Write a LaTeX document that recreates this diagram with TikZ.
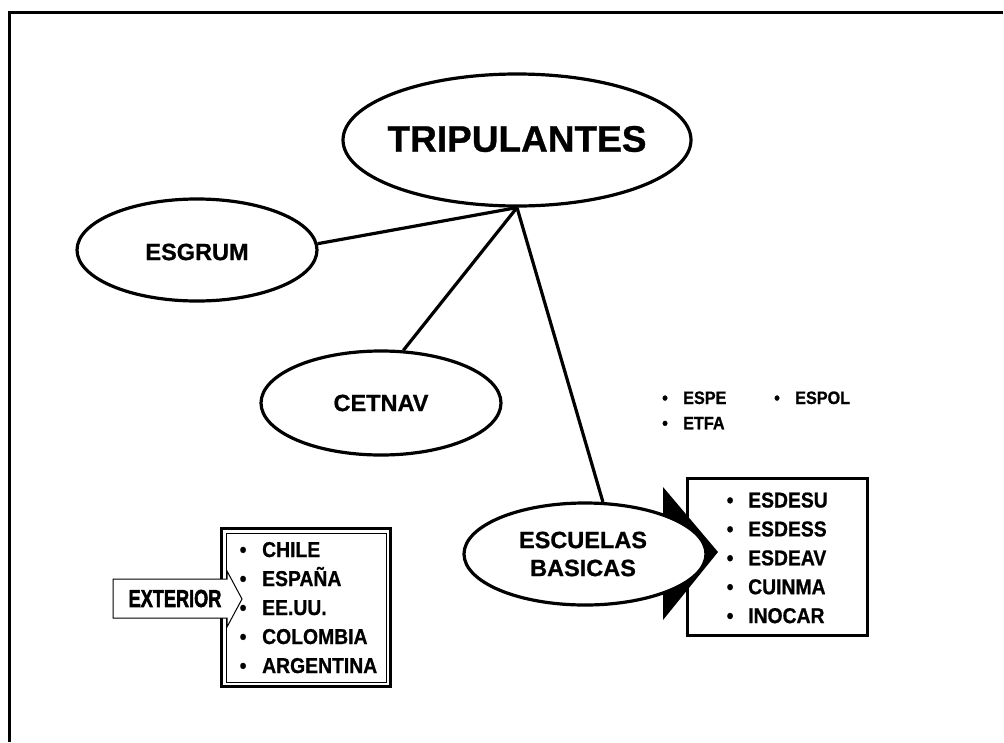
\documentclass[tikz,border=0pt]{standalone}
\usepackage{graphicx}
\usepackage{fontspec}
\setmainfont{Liberation Sans}[BoldFeatures={FakeBold=0.8}]
\newfontfamily\listfont{Liberation Sans Bold}[FakeStretch=0.9, FakeBold=0.8]
\newfontfamily\heavyfont{Liberation Sans Bold}[FakeBold=2.5]
\usetikzlibrary{shapes.geometric}
\begin{document}
\begin{tikzpicture}[x=1pt,y=-1pt,
  ell/.style={ellipse, draw, line width=3.2pt, fill=white, inner sep=0pt},
  conn/.style={line width=3.2pt},
  lbl/.style={font=\bfseries\fontsize{23.5}{28}\selectfont, align=center, inner sep=0pt},
  listitem/.style={font=\listfont\fontsize{21.5}{24}\selectfont, anchor=base west, inner sep=0pt},
  smallitem/.style={font=\listfont\fontsize{18}{20}\selectfont, anchor=base west, inner sep=0pt},
  framebox/.style={draw, line width=3.2pt, inner sep=0pt, anchor=north west}]
\fill[white] (0,0) rectangle (1004,742);
\useasboundingbox (0,0) rectangle (1004,742);
% outer frame (top and left edges)
\coordinate (fA) at (9,742);
\coordinate (fB) at (9,12);
\coordinate (fC) at (1003,12);
\draw[line width=3pt] (fA) -- (fB) -- (fC);

% ellipses
\node[ell, minimum width=348pt, minimum height=132pt] (trip) at (517,140) {};
\node[font=\bfseries\fontsize{37}{44}\selectfont, inner sep=0pt] (tripT) at (517,139) {TRIPULANTES};
\node[ell, minimum width=240pt, minimum height=102pt] (esg) at (197,250) {};
\node[lbl] (esgT) at (197,252) {ESGRUM};
\node[ell, minimum width=240pt, minimum height=104pt] (cet) at (381,403) {};
\node[lbl] (cetT) at (381,403) {CETNAV};

% right box with list
\node[framebox, minimum width=180pt, minimum height=157pt] (rbox) at (686,477) {};
\fill (663,487) -- (718,552) -- (663,620) -- cycle;
\node[ell, minimum width=242pt, minimum height=102pt] (esc) at (585,554) {};
\node[lbl] (escT) at (583,554) {ESCUELAS\\BASICAS};

% connectors
\draw[conn] (trip.south) -- (esg.3);
\draw[conn] (trip.south) -- (cet.67);
\draw[conn] (trip.south) -- (esc.71);

\foreach \t [count=\i] in {ESDESU,ESDESS,ESDEAV,CUINMA,INOCAR}
  \node[listitem] (r\i) at (726.5,{507.5+28.9*(\i-1)}) {\makebox[21.5pt][l]{•}\t};

% small list
\node[smallitem] (s1) at (662,404) {\makebox[21pt][l]{•}ESPE};
\node[smallitem] (s2) at (662,429.3) {\makebox[21pt][l]{•}ETFA};
\node[smallitem] (s3) at (774,404) {\makebox[21pt][l]{•}ESPOL};

% left box with list
\node[framebox, minimum width=169pt, minimum height=158pt] (lbox) at (220,527) {};
\node[draw, line width=1pt, minimum width=160pt, minimum height=149pt, inner sep=0pt] (lboxin) at (lbox.center) {};
\foreach \t [count=\i] in {CHILE,ESPAÑA,EE.UU.,COLOMBIA,ARGENTINA}
  \node[listitem] (l\i) at (239.5,{557+29*(\i-1)}) {\makebox[22.5pt][l]{•}\t};

% EXTERIOR block arrow
\draw[line width=1pt, fill=white] (113,579) -- (227,579) -- (227,571) -- (242,599) -- (227,627) -- (227,618) -- (113,618) -- cycle;
\node[font=\heavyfont\fontsize{24.5}{28}\selectfont, inner sep=0pt] (extT) at (175,598.5) {\scalebox{0.74}[1]{EXTERIOR}};
\end{tikzpicture}
\end{document}
